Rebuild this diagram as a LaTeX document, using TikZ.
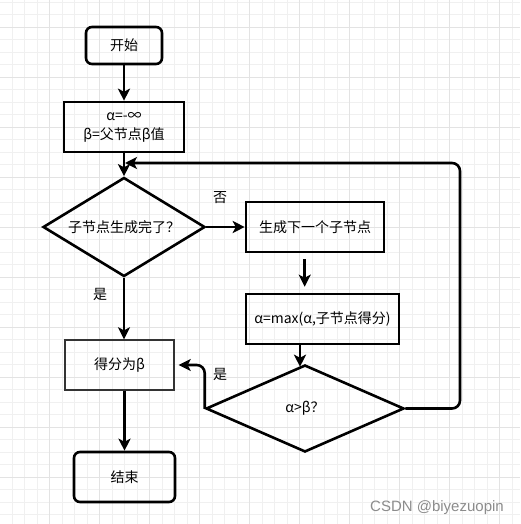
\documentclass[tikz,border=0pt]{standalone}
\usepackage{fontspec}
\setmainfont{Noto Sans CJK SC}
\newfontfamily\wmfont{Liberation Sans}
\usetikzlibrary{arrows.meta,shapes.geometric,calc}
\begin{document}
\begin{tikzpicture}[x=1pt,y=-1pt,
  every node/.style={font=\fontsize{14}{19}\selectfont},
  gridminor/.style={draw=black!6,line width=0.8pt},
  gridmajor/.style={draw=black!11,line width=0.8pt},
  box/.style={draw,line width=2.6pt,rectangle,inner sep=0pt,align=center},
  rbox/.style={box,rounded corners=6pt},
  thinbox/.style={draw=black!80,line width=1.4pt,rectangle,inner sep=0pt,align=center},
  dia/.style={draw,line width=2.6pt,diamond,inner sep=0pt,aspect=1.6},
  arr/.style={line width=2.6pt,-{Stealth[length=12pt,width=12pt,inset=3pt]}},
  lbl/.style={inner sep=0pt}]
\useasboundingbox (0,0) rectangle (520,524);
\fill[white] (0,0) rectangle (520,524);
\foreach \i in {0,...,42} {
  \draw[gridminor] ({-0.5+12.5*\i},0) -- ({-0.5+12.5*\i},524);
  \draw[gridminor] (0,{2+12.5*\i}) -- (520,{2+12.5*\i});
}
\foreach \i in {0,...,10} {
  \draw[gridmajor] ({-0.5+50*\i},0) -- ({-0.5+50*\i},524);
  \draw[gridmajor] (0,{27+50*\i}) -- (520,{27+50*\i});
}
% nodes
\node[rbox,minimum width=76,minimum height=37] (start) at (124,45.5) {开始};
\node[box,minimum width=120,minimum height=50] (init) at (124,127) {α=-∞\\β=父节点β值};
\node[dia,minimum width=162,minimum height=99] (d1) at (124,227) {子节点生成完了？};
\node[box,minimum width=138,minimum height=50] (gen) at (315,227) {生成下一个子节点};
\node[box,minimum width=153,minimum height=50] (max) at (322.5,319) {α=max(α,子节点得分)};
\node[dia,minimum width=198,minimum height=87,aspect=2.2] (d2) at (305,408.5) {α>β？};
\node[thinbox,minimum width=109,minimum height=50] (score) at (119.5,365) {得分为β};
\node[rbox,minimum width=101,minimum height=50] (end) at (124.5,477) {结束};
% labels
\node[lbl] (no) at (220,198) {否};
\node[lbl] (yes1) at (100,294) {是};
\node[lbl] (yes2) at (220,374) {是};
\node[lbl,font=\wmfont\fontsize{15}{15}\selectfont,text=black!45] (wm) at (437,508) {CSDN @biyezuopin};
% connectors
\coordinate (merge) at (125,163);
\coordinate (loopr) at (460,163);
\draw[arr] (start) -- (init);
\draw[arr] (init) -- (d1);
\draw[arr] (d1) -- (gen);
\draw[arr] ([shift={(60,6)}]gen.south west) -- ([shift={(60,-6)}]max.north west);
\draw[arr] ([xshift=-22.5pt]max.south) -- ([xshift=-5pt,yshift=-3pt]d2.north);
\draw[arr,rounded corners=8pt] (d2.east) -- (d2.east -| loopr) -- (loopr) -- (merge);
\draw[arr,rounded corners=8pt] (d2.west) -- (d2.west |- score.east) -- ([xshift=4pt]score.east);
\draw[arr] (d1.south) -- (d1.south |- score.north);
\draw[arr] (score.south -| end.north) -- (end.north);
\end{tikzpicture}
\end{document}
